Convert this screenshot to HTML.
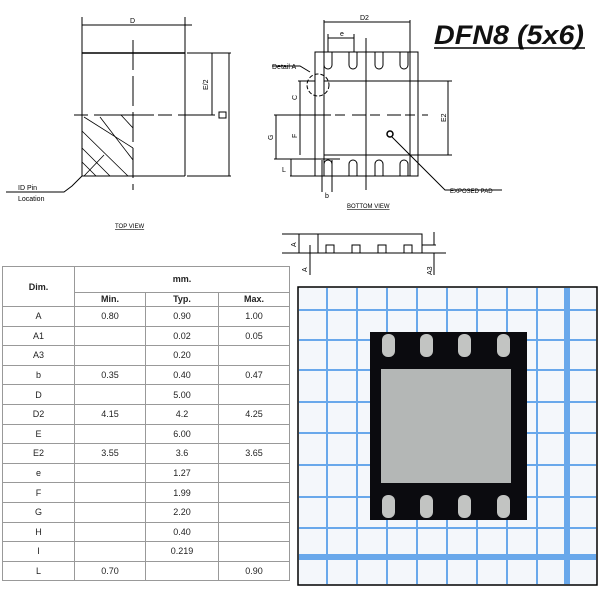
<!DOCTYPE html>
<html><head><meta charset="utf-8"><style>
html,body{margin:0;padding:0;background:#fff;width:600px;height:600px;overflow:hidden;position:relative;font-family:"Liberation Sans",sans-serif;}
svg{position:absolute;left:0;top:0}
table{position:absolute;left:2px;top:266px;border-collapse:collapse;font-size:9px;color:#222}
td{border:1px solid #999;text-align:center;padding:0;height:18.6px}
.hd td{font-weight:bold}
</style></head><body>
<svg width="600" height="600" xmlns="http://www.w3.org/2000/svg" font-family="Liberation Sans, sans-serif">
<g stroke="#000" fill="none" stroke-width="1">
<!-- TOP VIEW -->
<line x1="82" y1="17" x2="82" y2="176"/>
<line x1="185" y1="17" x2="185" y2="176"/>
<line x1="82" y1="25" x2="192" y2="25"/>
<line x1="82" y1="53" x2="185" y2="53" stroke-width="1.5"/>
<line x1="82" y1="176" x2="185" y2="176"/>
<line x1="133" y1="40" x2="133" y2="190" stroke-dasharray="30,6"/>
<line x1="74" y1="115" x2="195" y2="115" stroke-dasharray="14,6,60,4"/>
<line x1="187" y1="53" x2="231" y2="53"/>
<line x1="187" y1="176" x2="231" y2="176"/>
<line x1="195" y1="115" x2="215" y2="115"/>
<line x1="212" y1="53" x2="212" y2="115"/>
<line x1="229" y1="53" x2="229" y2="176"/>
<rect x="219" y="112" width="7" height="6"/>
<g stroke-width="0.8">
<line x1="84" y1="117" x2="133" y2="148"/>
<line x1="82" y1="131" x2="128" y2="176"/>
<line x1="82" y1="148" x2="110" y2="176"/>
<line x1="82" y1="162" x2="96" y2="176"/>
<line x1="100" y1="117" x2="133" y2="160"/>
<line x1="121" y1="115" x2="133" y2="128"/>
<line x1="84" y1="176" x2="104" y2="155"/>
</g>
<polyline points="82,176 72,186 64,192 6,192"/>
<!-- BOTTOM VIEW -->
<rect x="315" y="52" width="103" height="124"/>
<line x1="324" y1="81" x2="410" y2="81"/>
<line x1="324" y1="155" x2="410" y2="155"/>
<line x1="324" y1="20" x2="324" y2="176"/>
<line x1="410" y1="20" x2="410" y2="176"/>
<line x1="324" y1="22" x2="410" y2="22"/>
<line x1="328" y1="38" x2="354" y2="38"/>
<line x1="328" y1="34" x2="328" y2="52"/><line x1="354" y1="34" x2="354" y2="52"/>
<line x1="366" y1="38" x2="366" y2="190"/>
<line x1="300" y1="115" x2="428" y2="115" stroke-dasharray="10,7,14,4"/>
<line x1="298" y1="81" x2="315" y2="81"/>
<line x1="410" y1="81" x2="452" y2="81"/><line x1="410" y1="155" x2="452" y2="155"/>
<line x1="448" y1="81" x2="448" y2="155"/>
<line x1="300" y1="81" x2="300" y2="155"/>
<line x1="274" y1="115" x2="322" y2="115"/>
<line x1="276" y1="115" x2="276" y2="159"/>
<line x1="274" y1="159" x2="340" y2="159"/>
<line x1="290" y1="176" x2="315" y2="176"/>
<line x1="291" y1="159" x2="291" y2="176"/>
<line x1="322" y1="160" x2="322" y2="192"/><line x1="332" y1="160" x2="332" y2="192"/>
<g>
<path d="M324,52 V65 a4,4 0 0 0 8,0 V52"/>
<path d="M349,52 V65 a4,4 0 0 0 8,0 V52"/>
<path d="M375,52 V65 a4,4 0 0 0 8,0 V52"/>
<path d="M400,52 V65 a4,4 0 0 0 8,0 V52"/>
<path d="M324,176 V164 a4,4 0 0 1 8,0 V176"/>
<path d="M349,176 V164 a4,4 0 0 1 8,0 V176"/>
<path d="M375,176 V164 a4,4 0 0 1 8,0 V176"/>
<path d="M400,176 V164 a4,4 0 0 1 8,0 V176"/>
</g>
<circle cx="318" cy="85" r="11" stroke-dasharray="4,2"/>
<polyline points="310,72 300,66 272,66"/>
<circle cx="390" cy="134" r="3" stroke-width="1.5"/>
<polyline points="392,137 445,190 502,190"/>
<!-- SIDE VIEW -->
<rect x="318" y="234" width="104" height="19"/>
<line x1="282" y1="253" x2="446" y2="253"/>
<line x1="282" y1="234" x2="318" y2="234"/>
<line x1="299" y1="234" x2="299" y2="253"/>
<line x1="310" y1="245" x2="310" y2="275"/>
<line x1="434" y1="232" x2="434" y2="245"/>
<line x1="434" y1="253" x2="434" y2="275"/>
<line x1="422" y1="245" x2="436" y2="245"/>
<rect x="326" y="245" width="8" height="8"/><rect x="352" y="245" width="8" height="8"/>
<rect x="378" y="245" width="8" height="8"/><rect x="404" y="245" width="8" height="8"/>
</g>
<g font-size="7" fill="#000">
<text x="130" y="23">D</text>
<text x="208" y="90" transform="rotate(-90 208 90)">E/2</text>
<text x="18" y="190">ID Pin</text>
<text x="18" y="201">Location</text>
<text x="115" y="228" text-decoration="underline" font-size="6">TOP VIEW</text>
<text x="360" y="20">D2</text>
<text x="340" y="36">e</text>
<text x="272" y="69">Detail A</text>
<text x="297" y="100" transform="rotate(-90 297 100)">C</text>
<text x="297" y="138" transform="rotate(-90 297 138)">F</text>
<text x="273" y="140" transform="rotate(-90 273 140)">G</text>
<text x="446" y="122" transform="rotate(-90 446 122)">E2</text>
<text x="282" y="172">L</text>
<text x="325" y="198">b</text>
<text x="450" y="193" font-size="6">EXPOSED PAD</text>
<text x="347" y="208" font-size="6" text-decoration="underline">BOTTOM VIEW</text>
<text x="296" y="247" transform="rotate(-90 296 247)">A</text>
<text x="307" y="272" transform="rotate(-90 307 272)">A</text>
<text x="432" y="275" transform="rotate(-90 432 275)">A3</text>
</g>
<text x="434" y="44" font-size="27" font-style="italic" font-weight="bold" fill="#111" textLength="150" lengthAdjust="spacingAndGlyphs">DFN8 (5x6)</text>
<line x1="434" y1="48" x2="585" y2="48" stroke="#000" stroke-width="1.5"/>
<!-- PHOTO -->
<rect x="298" y="287" width="299" height="298" fill="#f4f7fb" stroke="#000" stroke-width="1.5"/>
<g stroke="#5aa0ea" stroke-width="2" opacity="0.9">
<line x1="327" y1="288" x2="327" y2="584"/><line x1="357" y1="288" x2="357" y2="584"/>
<line x1="387" y1="288" x2="387" y2="584"/><line x1="417" y1="288" x2="417" y2="584"/>
<line x1="447" y1="288" x2="447" y2="584"/><line x1="477" y1="288" x2="477" y2="584"/>
<line x1="507" y1="288" x2="507" y2="584"/><line x1="537" y1="288" x2="537" y2="584"/>
<line x1="567" y1="288" x2="567" y2="584" stroke-width="6"/>
<line x1="299" y1="310" x2="596" y2="310"/><line x1="299" y1="340" x2="596" y2="340"/>
<line x1="299" y1="370" x2="596" y2="370"/><line x1="299" y1="402" x2="596" y2="402"/>
<line x1="299" y1="433" x2="596" y2="433"/><line x1="299" y1="465" x2="596" y2="465"/>
<line x1="299" y1="497" x2="596" y2="497"/><line x1="299" y1="528" x2="596" y2="528"/>
<line x1="299" y1="557" x2="596" y2="557" stroke-width="6"/>
</g>
<rect x="370" y="332" width="157" height="188" fill="#0b0b0f"/>
<rect x="381" y="369" width="130" height="114" fill="#b4b7b6"/>
<g fill="#c2c4c2">
<rect x="382" y="334" width="13" height="23" rx="6"/><rect x="420" y="334" width="13" height="23" rx="6"/>
<rect x="458" y="334" width="13" height="23" rx="6"/><rect x="497" y="334" width="13" height="23" rx="6"/>
<rect x="382" y="495" width="13" height="23" rx="6"/><rect x="420" y="495" width="13" height="23" rx="6"/>
<rect x="458" y="495" width="13" height="23" rx="6"/><rect x="497" y="495" width="13" height="23" rx="6"/>
</g>
</svg>
<table>
<colgroup><col style="width:72px"><col style="width:71px"><col style="width:73px"><col style="width:71px"></colgroup>
<tr class="hd"><td rowspan="2" style="height:39px">Dim.</td><td colspan="3" style="height:24px">mm.</td></tr>
<tr class="hd"><td style="height:13px">Min.</td><td style="height:13px">Typ.</td><td style="height:13px">Max.</td></tr>
<tr><td>A</td><td>0.80</td><td>0.90</td><td>1.00</td></tr>
<tr><td>A1</td><td></td><td>0.02</td><td>0.05</td></tr>
<tr><td>A3</td><td></td><td>0.20</td><td></td></tr>
<tr><td>b</td><td>0.35</td><td>0.40</td><td>0.47</td></tr>
<tr><td>D</td><td></td><td>5.00</td><td></td></tr>
<tr><td>D2</td><td>4.15</td><td>4.2</td><td>4.25</td></tr>
<tr><td>E</td><td></td><td>6.00</td><td></td></tr>
<tr><td>E2</td><td>3.55</td><td>3.6</td><td>3.65</td></tr>
<tr><td>e</td><td></td><td>1.27</td><td></td></tr>
<tr><td>F</td><td></td><td>1.99</td><td></td></tr>
<tr><td>G</td><td></td><td>2.20</td><td></td></tr>
<tr><td>H</td><td></td><td>0.40</td><td></td></tr>
<tr><td>I</td><td></td><td>0.219</td><td></td></tr>
<tr><td>L</td><td>0.70</td><td></td><td>0.90</td></tr>
</table>
</body></html>
